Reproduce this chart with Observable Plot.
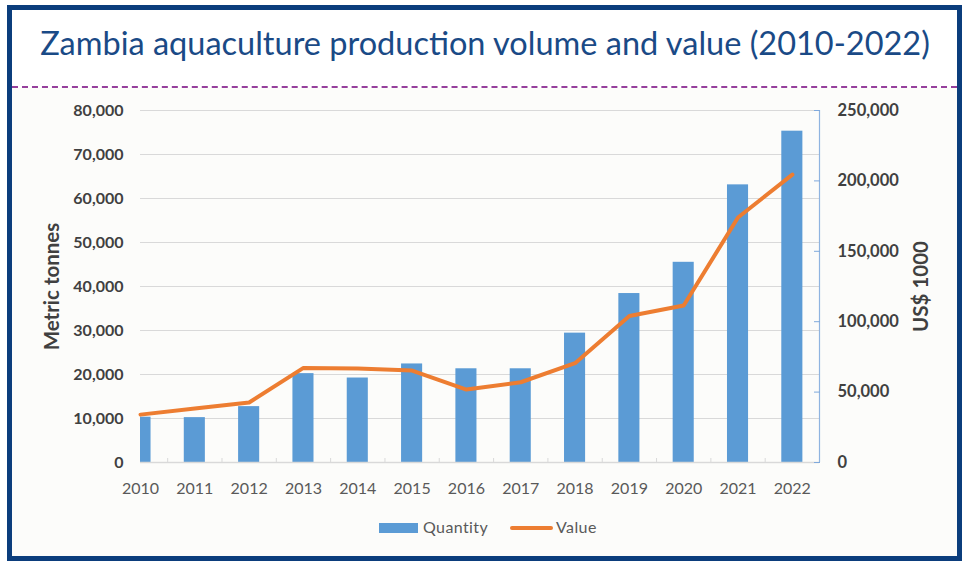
<!DOCTYPE html>
<html>
<head>
<meta charset="utf-8">
<script src="https://cdn.jsdelivr.net/npm/d3@7"></script>
<script src="https://cdn.jsdelivr.net/npm/@observablehq/plot@0.6"></script>
<style>
  html, body { margin: 0; padding: 0; background: #ffffff; }
  body { width: 970px; height: 568px; position: relative; overflow: hidden; font-family: Lato, "Open Sans", sans-serif; }
  #frame { position: absolute; left: 7px; top: 5px; width: 955px; height: 556px; box-sizing: border-box; border: 5px solid #0b3d7c; background: #ffffff; }
  #lower { position: absolute; left: 12px; top: 88px; width: 945px; height: 468px; background: #fcfcfa; }
  #title { position: absolute; left: 0; width: 970px; top: 23px; text-align: center; font-family: Lato, sans-serif; font-size: 32.5px; color: #1a4a86; font-weight: 400; }
  #dash { position: absolute; left: 12px; top: 86px; width: 945px; height: 0; border-top: 2px dashed #96409c; }
  #chart { position: absolute; left: 0; top: 90px; }
  .sw-bar { position: absolute; left: 379px; top: 523px; width: 39px; height: 10px; background: #5b9bd5; }
  .lab { position: absolute; top: 517px; font-size: 16px; letter-spacing: 0.4px; color: #595959; }
  .sw-line { position: absolute; left: 510px; top: 526px; width: 43px; height: 4px; background: #ed7d31; border-radius: 2px; }
</style>
</head>
<body>
<div id="frame"></div>
<div id="lower"></div>
<div id="title">Zambia aquaculture production volume and value (2010-2022)</div>
<div id="dash"></div>
<div id="chart"></div>
<div class="sw-bar"></div>
<div class="lab" style="left:423px;">Quantity</div>
<div class="sw-line"></div>
<div class="lab" style="left:556px;">Value</div>
<script>
const years = [2010, 2011, 2012, 2013, 2014, 2015, 2016, 2017, 2018, 2019, 2020, 2021, 2022];
const quantity = [10300, 10200, 12700, 20200, 19200, 22400, 21300, 21300, 29400, 38400, 45500, 63100, 75300];
const value = [34000, 38400, 42600, 67200, 66800, 65300, 51800, 57000, 70500, 104000, 111500, 174000, 204500];
const qtyTicks = [0, 10000, 20000, 30000, 40000, 50000, 60000, 70000, 80000];
const valueTicks = [0, 50000, 100000, 150000, 200000, 250000];
const qtyMax = 80000;
const valueMax = 250000;
const ratio = qtyMax / valueMax;

const data = years.map((year, i) => ({year, qty: quantity[i], value: value[i]}));
const halfBar = 0.194;
const fmt = d3.format(",");
const xDomain = [years[0], years[years.length - 1] + 0.5];

const chart = Plot.plot({
  width: 970,
  height: 420,
  marginLeft: 140,
  marginRight: 151,
  marginTop: 20,
  marginBottom: 48,
  style: {background: "transparent", fontFamily: "Lato, 'Open Sans', sans-serif"},
  x: {type: "linear", domain: xDomain, axis: null},
  y: {domain: [0, qtyMax], axis: null},
  marks: [
    Plot.gridY({ticks: qtyTicks, stroke: "#d9d9d9", strokeOpacity: 1, strokeWidth: 1.2}),
    Plot.rectY(data, {x1: d => d.year - halfBar, x2: d => d.year + halfBar, y1: 0, y2: "qty", fill: "#5b9bd5", clip: true}),
    Plot.ruleY([0], {stroke: "#d9d9d9", strokeWidth: 1.5}),
    Plot.axisX({ticks: years.slice(0, -1).map(y => y + 0.5), text: null, tickSize: -4, stroke: "#d9d9d9", strokeOpacity: 1, label: null}),
    Plot.ruleX([xDomain[1]], {stroke: "#8fb4e0", strokeWidth: 1.2}),
    Plot.axisY({
      anchor: "right", ticks: valueTicks.map(v => v * ratio), text: null,
      tickSize: -6, stroke: "#7fa9dc", strokeOpacity: 1, label: null
    }),
    Plot.line(data, {x: "year", y: d => d.value * ratio, stroke: "#ed7d31", strokeWidth: 4, strokeLinejoin: "round", strokeLinecap: "round"}),
    Plot.axisY({
      anchor: "left", ticks: qtyTicks, tickFormat: fmt, tickSize: 0, tickPadding: 17,
      fontSize: 16, fontWeight: "bold", fill: "#404040", label: null
    }),
    Plot.axisY({
      anchor: "right", ticks: valueTicks.map(v => v * ratio), tickFormat: d => fmt(Math.round(d / ratio)),
      tickSize: 0, tickPadding: 18, fontSize: 16.5, fontWeight: "bold", fill: "#404040", label: null
    }),
    Plot.axisX({
      ticks: years, tickFormat: d => String(d), tickSize: 0, tickPadding: 20,
      fontSize: 16, fill: "#595959", label: null
    }),
    Plot.text(["Metric tonnes"], {frameAnchor: "left", dx: -88, rotate: -90, textAnchor: "middle", fontSize: 20.5, fontWeight: "bold", fill: "#404040"}),
    Plot.text(["US$ 1000"], {frameAnchor: "right", dx: 102, rotate: -90, textAnchor: "middle", fontSize: 20.5, fontWeight: "bold", fill: "#404040"})
  ]
});
document.getElementById("chart").appendChild(chart);
</script>
</body>
</html>
